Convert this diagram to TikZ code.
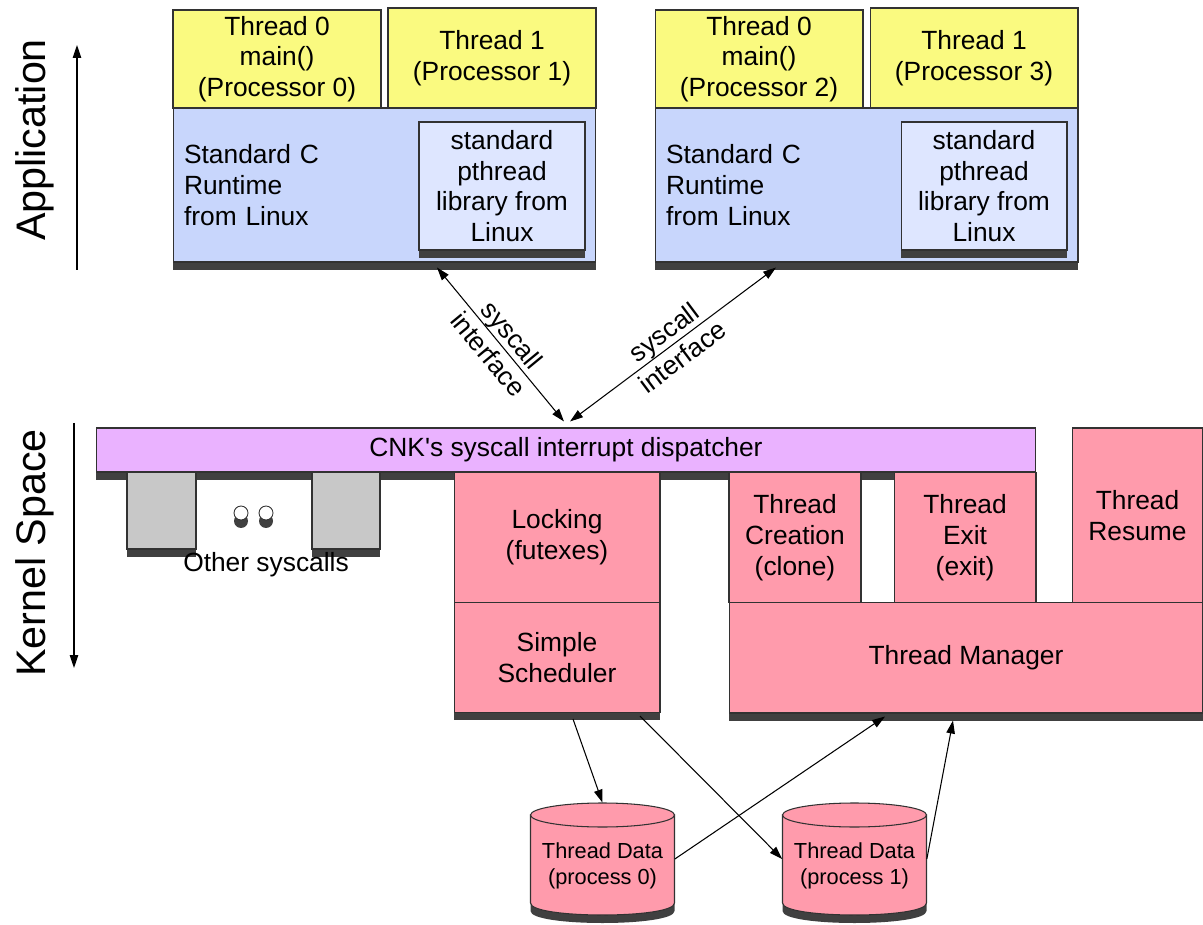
\documentclass[tikz,border=0pt]{standalone}
\usepackage{fontspec}
\setmainfont{Liberation Sans}
\usetikzlibrary{arrows.meta}
\definecolor{thryellow}{RGB}{250,250,128}
\definecolor{rtblue}{RGB}{200,214,252}
\definecolor{libblue}{RGB}{222,230,255}
\definecolor{dispviolet}{RGB}{234,178,255}
\definecolor{kpink}{RGB}{255,155,172}
\definecolor{sysgray}{RGB}{200,200,200}
\definecolor{shadowgray}{RGB}{64,64,64}
\definecolor{edgegray}{RGB}{50,50,50}
\tikzset{
  box/.style={draw=edgegray,line width=0.6pt,inner sep=0pt,align=center},
  shadowed/.style={preaction={fill=shadowgray,transform canvas={yshift=-0.16cm}}},
  arr/.style={-{Triangle[length=0.26cm,width=0.17cm]},line width=0.6pt},
  dblarr/.style={{Triangle[length=0.26cm,width=0.17cm]}-{Triangle[length=0.26cm,width=0.17cm]},line width=0.6pt},
  sidelbl/.style={rotate=90,font=\fontsize{23.5}{28}\selectfont}
}
\begin{document}
\begin{tikzpicture}[x=0.02cm,y=-0.02cm,font=\fontsize{15}{17.5}\selectfont]
\useasboundingbox (0,0) rectangle (1203,925);
% application side, two processes
\foreach \g/\dx/\pa/\pb in {A/0/0/1,B/482/2/3}{
  \begin{scope}[xshift=\dx*0.02cm]
    \node[box,fill=thryellow,minimum width=4.16cm,minimum height=1.96cm] (thrzero\g) at (277,59) {Thread 0\\main()\\(Processor \pa)};
    \node[box,fill=thryellow,minimum width=4.16cm,minimum height=2cm] (throne\g) at (492,58) {Thread 1\\(Processor \pb)};
    \node[box,shadowed,fill=rtblue,minimum width=8.46cm,minimum height=3.08cm,text width=8.02cm,inner xsep=0.22cm,align=left] (rt\g) at (384.5,185) {Standard C\\Runtime\\from Linux};
    \node[box,shadowed,fill=libblue,minimum width=3.32cm,minimum height=2.56cm] (lib\g) at (502,186) {standard\\pthread\\library from\\Linux};
  \end{scope}
}
% kernel side
\node[box,shadowed,fill=dispviolet,minimum width=18.8cm,minimum height=0.88cm] (disp) at (566,450) {CNK\textquotesingle s syscall interrupt dispatcher};
\node[box,shadowed,fill=sysgray,minimum width=1.38cm,minimum height=1.53cm] (sysa) at (161.5,510.75) {};
\node[box,shadowed,fill=sysgray,minimum width=1.36cm,minimum height=1.53cm] (sysb) at (346,510.75) {};
\foreach \dx in {241,266}{
  \fill[shadowgray] (\dx,521) circle (0.14cm);
  \draw[edgegray,fill=white,line width=0.5pt] (\dx,513) circle (0.14cm);
}
\node (other) at (266,565) {Other syscalls};
\node[box,fill=kpink,minimum width=4.12cm,minimum height=2.6cm] (lock) at (557,537.5) {Locking\\(futexes)};
\node[box,shadowed,fill=kpink,minimum width=4.12cm,minimum height=2.2cm] (sched) at (557,657.5) {Simple\\Scheduler};
\node[box,fill=kpink,minimum width=2.64cm,minimum height=2.6cm] (create) at (795,537.5) {Thread\\Creation\\(clone)};
\node[box,fill=kpink,minimum width=2.84cm,minimum height=2.6cm] (exit) at (965,537.5) {Thread\\Exit\\(exit)};
\node[box,fill=kpink,minimum width=2.62cm,minimum height=3.49cm] (resume) at (1137.5,515.25) {Thread\\Resume};
\node[box,shadowed,fill=kpink,minimum width=9.48cm,minimum height=2.21cm] (manager) at (966,657.75) {Thread Manager};
% thread data
\foreach \cx/\n in {602.5/0,854.5/1}{
  \draw[draw=edgegray,fill=kpink,line width=0.6pt,shadowed] (\cx-72,815) -- (\cx-72,903) .. controls (\cx-72,919) and (\cx+72,919) .. (\cx+72,903) -- (\cx+72,815) -- cycle;
  \draw[draw=edgegray,fill=kpink,line width=0.6pt] (\cx,815) ellipse (1.44cm and 0.24cm);
  \node[minimum width=2.88cm,minimum height=2.24cm,inner sep=0pt] (cyl\n) at (\cx,859) {};
  \node[font=\fontsize{12.4}{15}\selectfont,align=center] (cyltxt\n) at (\cx,866) {Thread Data\\(process \n)};
}
% syscall interface
\draw[dblarr] ([xshift=1.05cm,yshift=-0.1cm]rtA.south) -- ([xshift=-0.04cm,yshift=0.12cm]disp.north)
  node[midway,sloped,align=center] {syscall\\interface};
\draw[dblarr] ([xshift=-1.81cm,yshift=-0.1cm]rtB.south) -- ([xshift=0.08cm,yshift=0.12cm]disp.north)
  node[midway,sloped,align=center] {syscall\\interface};
\draw[arr] ([xshift=0.32cm,yshift=-0.12cm]sched.south) -- (cyl0.north);
\draw[arr] ([xshift=1.66cm,yshift=-0.06cm]sched.south) -- (cyl1.west);
\draw[arr] (cyl0.east) -- ([xshift=-1.62cm,yshift=-0.06cm]manager.south);
\draw[arr] (cyl1.east) -- ([xshift=-0.26cm,yshift=-0.14cm]manager.south);
% side axis
\coordinate (appbot) at (77,270);
\coordinate (apptop) at (77,45);
\coordinate (kerntop) at (74,423);
\coordinate (kernbot) at (74,668);
\draw[arr] (appbot) -- (apptop);
\draw[arr] (kerntop) -- (kernbot);
\node[sidelbl] (applbl) at (35,140) {Application};
\node[sidelbl] (kernlbl) at (35,553) {Kernel Space};
\end{tikzpicture}
\end{document}
